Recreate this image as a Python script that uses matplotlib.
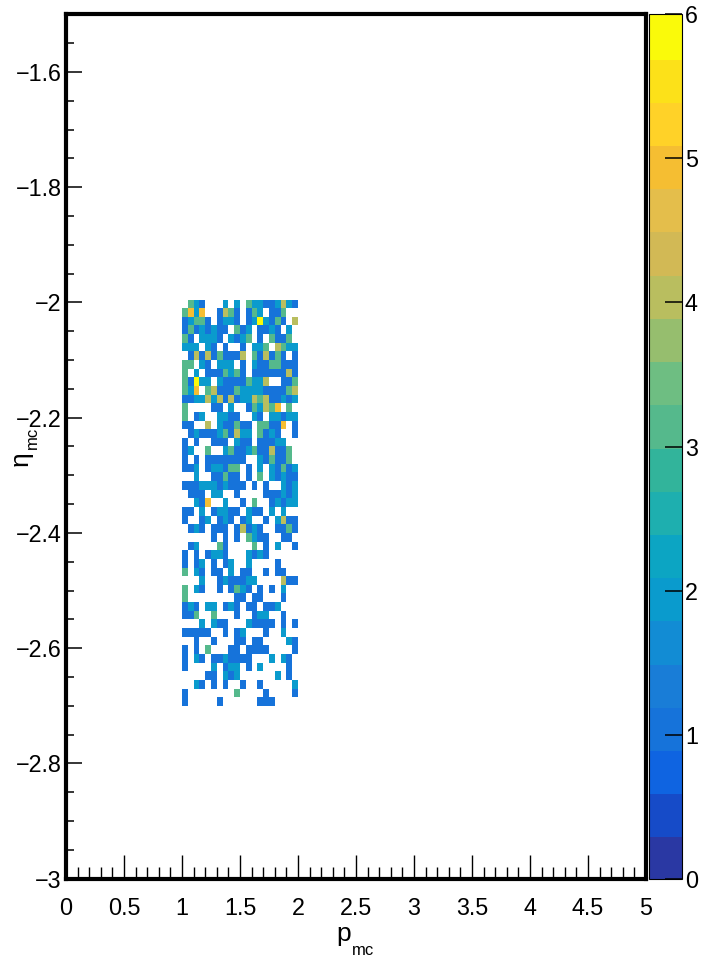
import matplotlib
matplotlib.use('Agg')
import matplotlib.pyplot as plt
import numpy as np
from matplotlib.colors import ListedColormap, Normalize
from matplotlib.ticker import MultipleLocator

plt.rcParams['font.family'] = ['Liberation Sans', 'DejaVu Sans']

# weights per bin, top row first (0 = empty bin), 20 columns of p_mc from 1 to 2
counts = [
    [0, 3, 2, 1, 0, 0, 0, 2, 0, 2, 0, 3, 2, 2, 1, 1, 2, 4, 2, 1],
    [3, 5, 2, 5, 0, 0, 1, 4, 3, 1, 0, 1, 3, 2, 0, 1, 1, 3, 0, 0],
    [1, 2, 3, 3, 1, 0, 1, 2, 2, 1, 0, 1, 2, 6, 2, 1, 3, 1, 0, 4],
    [1, 3, 1, 2, 1, 2, 1, 1, 0, 3, 1, 2, 0, 1, 1, 2, 1, 0, 2, 0],
    [3, 1, 0, 2, 2, 2, 1, 0, 2, 1, 2, 3, 0, 1, 0, 3, 1, 1, 3, 0],
    [2, 2, 2, 0, 2, 1, 0, 1, 0, 0, 1, 0, 2, 2, 3, 0, 4, 3, 2, 2],
    [0, 1, 4, 1, 4, 1, 3, 1, 1, 1, 4, 0, 3, 1, 4, 1, 3, 1, 0, 1],
    [3, 3, 0, 2, 1, 0, 2, 2, 2, 0, 1, 0, 2, 1, 1, 3, 3, 1, 1, 1],
    [3, 0, 2, 0, 1, 1, 1, 3, 2, 3, 1, 0, 1, 1, 1, 1, 1, 1, 4, 1],
    [3, 1, 6, 2, 2, 0, 2, 1, 1, 1, 1, 3, 2, 2, 4, 0, 0, 1, 1, 3],
    [3, 2, 5, 0, 3, 4, 1, 1, 1, 3, 2, 2, 2, 2, 1, 1, 1, 1, 3, 4],
    [1, 1, 2, 2, 4, 2, 4, 1, 4, 1, 2, 2, 4, 3, 4, 1, 1, 2, 1, 2],
    [3, 0, 0, 0, 0, 1, 1, 0, 2, 0, 0, 1, 3, 2, 4, 3, 5, 0, 3, 0],
    [3, 0, 1, 2, 0, 0, 2, 2, 1, 1, 0, 0, 2, 1, 0, 2, 2, 1, 2, 2],
    [1, 1, 0, 0, 4, 0, 2, 1, 1, 3, 1, 1, 0, 3, 3, 1, 1, 5, 0, 1],
    [0, 1, 2, 1, 1, 1, 2, 3, 1, 4, 2, 2, 0, 3, 1, 2, 1, 0, 0, 1],
    [1, 0, 1, 0, 0, 1, 1, 1, 0, 2, 1, 1, 0, 1, 1, 1, 2, 2, 0, 0],
    [1, 2, 0, 0, 3, 0, 0, 2, 3, 1, 1, 2, 3, 1, 1, 4, 1, 1, 3, 0],
    [1, 0, 1, 0, 1, 1, 1, 1, 1, 1, 1, 0, 0, 2, 1, 3, 1, 1, 3, 0],
    [1, 1, 2, 0, 1, 2, 2, 1, 3, 3, 0, 1, 0, 2, 0, 2, 1, 3, 1, 2],
    [0, 0, 2, 0, 0, 1, 1, 3, 1, 1, 0, 1, 0, 3, 0, 2, 1, 2, 1, 1],
    [1, 1, 1, 2, 2, 2, 1, 2, 1, 1, 1, 0, 1, 0, 1, 0, 0, 2, 1, 2],
    [0, 1, 1, 1, 0, 2, 2, 0, 0, 1, 0, 0, 0, 0, 1, 1, 1, 2, 1, 2],
    [0, 0, 2, 1, 5, 0, 0, 2, 0, 0, 1, 0, 3, 0, 0, 1, 2, 1, 2, 2],
    [1, 1, 0, 2, 0, 1, 2, 2, 1, 1, 0, 2, 1, 1, 0, 2, 0, 2, 0, 0],
    [1, 0, 0, 1, 2, 0, 1, 2, 1, 0, 1, 2, 0, 0, 1, 0, 2, 4, 1, 1],
    [0, 1, 2, 1, 0, 1, 1, 1, 0, 1, 4, 1, 2, 1, 0, 0, 1, 1, 3, 1],
    [0, 0, 0, 0, 0, 1, 0, 1, 0, 1, 0, 3, 2, 1, 1, 0, 0, 1, 1, 0],
    [0, 1, 2, 0, 0, 0, 3, 1, 0, 0, 0, 0, 3, 0, 1, 0, 2, 0, 0, 1],
    [1, 0, 1, 0, 1, 2, 2, 1, 0, 0, 0, 2, 1, 2, 1, 0, 0, 0, 0, 0],
    [1, 0, 1, 2, 0, 1, 0, 1, 2, 0, 0, 2, 0, 0, 0, 0, 1, 0, 0, 0],
    [3, 0, 2, 1, 0, 1, 1, 0, 2, 0, 1, 1, 0, 0, 1, 0, 1, 1, 0, 0],
    [0, 0, 0, 2, 0, 0, 1, 2, 1, 1, 1, 2, 2, 0, 0, 0, 0, 4, 1, 1],
    [3, 0, 2, 1, 0, 0, 1, 0, 1, 3, 2, 1, 0, 1, 0, 1, 0, 2, 0, 0],
    [3, 0, 0, 0, 0, 0, 0, 0, 0, 1, 1, 0, 1, 1, 0, 0, 0, 1, 0, 0],
    [1, 2, 1, 0, 2, 2, 0, 1, 2, 1, 0, 1, 1, 0, 1, 1, 2, 0, 0, 0],
    [1, 1, 3, 0, 0, 3, 0, 0, 0, 1, 0, 0, 1, 2, 2, 0, 0, 1, 0, 0],
    [0, 0, 0, 2, 0, 2, 1, 1, 0, 0, 0, 2, 1, 1, 1, 1, 0, 1, 0, 1],
    [1, 1, 1, 1, 1, 0, 0, 1, 0, 1, 2, 0, 0, 0, 1, 0, 0, 2, 0, 0],
    [0, 0, 1, 0, 0, 1, 0, 0, 0, 1, 1, 0, 1, 1, 0, 0, 0, 0, 2, 1],
    [1, 0, 1, 0, 3, 0, 0, 0, 1, 1, 0, 1, 1, 1, 1, 0, 0, 0, 0, 1],
    [1, 0, 2, 1, 0, 1, 1, 2, 1, 1, 1, 1, 0, 0, 0, 2, 0, 2, 1, 0],
    [1, 0, 0, 0, 0, 2, 0, 1, 2, 2, 0, 1, 0, 2, 0, 0, 0, 0, 1, 0],
    [0, 0, 0, 0, 1, 1, 0, 2, 1, 2, 0, 0, 0, 0, 0, 0, 2, 0, 1, 0],
    [0, 0, 2, 1, 0, 1, 0, 1, 0, 0, 1, 0, 0, 1, 0, 0, 0, 0, 0, 2],
    [1, 0, 0, 0, 0, 0, 0, 0, 0, 3, 0, 0, 0, 0, 1, 0, 0, 0, 0, 1],
    [1, 0, 0, 0, 0, 0, 1, 0, 0, 0, 0, 0, 0, 1, 1, 1, 0, 0, 0, 0],
]

x_ticks = [0, 0.5, 1, 1.5, 2, 2.5, 3, 3.5, 4, 4.5, 5]
x_labels = ['0', '0.5', '1', '1.5', '2', '2.5', '3', '3.5', '4', '4.5', '5']
y_ticks = [-3, -2.8, -2.6, -2.4, -2.2, -2, -1.8, -1.6]
y_labels = ['\u22123', '\u22122.8', '\u22122.6', '\u22122.4', '\u22122.2', '\u22122', '\u22121.8', '\u22121.6']
z_ticks = [0, 1, 2, 3, 4, 5, 6]

# the 20 contour colours as they look in the picture, low to high
palette = ['#2a38a3', '#164bc8', '#0f64e1', '#1673da', '#197dd7', '#128cd4', '#0a9bcd', '#0ca5c3',
           '#1eafaf', '#32b49b', '#55b98c', '#6ebe82', '#96be6e', '#b9be5f', '#d2b955', '#e4be4b',
           '#f5be32', '#ffd228', '#fce119', '#fafa0a']
cmap = ListedColormap(palette)
norm = Normalize(0, 6)

W, H = 702, 958
fig = plt.figure(figsize=(W / 100, H / 100), dpi=100)
ax = fig.add_axes([66 / W, 1 - 878.7 / H, 580 / W, 864.4 / H])

z = np.ma.masked_equal(np.array(counts, dtype=float), 0)
x_edges = np.linspace(1, 2, 21)
y_edges = -1.995 - 0.015 * np.arange(48)
mesh = ax.pcolormesh(x_edges, y_edges, z, cmap=cmap, norm=norm, linewidth=0)

ax.set_xlim(0, 5)
ax.set_ylim(-3, -1.5)
for s in ax.spines.values():
    s.set_linewidth(3)
ax.set_xticks(x_ticks, x_labels)
ax.set_yticks(y_ticks, y_labels)
ax.xaxis.set_minor_locator(MultipleLocator(0.1))
ax.yaxis.set_minor_locator(MultipleLocator(0.05))
ax.tick_params(axis='x', which='major', direction='in', length=17.5, width=1, labelsize=16.8, pad=13)
ax.tick_params(axis='x', which='minor', direction='in', length=9, width=1)
ax.tick_params(axis='y', which='major', direction='in', length=11.5, width=1.1, labelsize=16.8, pad=3)
ax.tick_params(axis='y', which='minor', direction='in', length=6, width=1.1)

# axis titles with the subscript set by hand, as ROOT draws them
def title(px, py, s, size, rot=0):
    fig.text(px / W, 1 - py / H, s, fontsize=size, rotation=rot, rotation_mode='anchor',
             ha='left', va='baseline')

title(336, 941, 'p', 19)
title(351.5, 955, 'mc', 12)
title(28, 466, '\u03b7', 19, 90)
title(37, 449, 'mc', 12, 90)

cax = fig.add_axes([649 / W, 1 - 878.7 / H, 33 / W, 864.4 / H])
cb = fig.colorbar(mesh, cax=cax, ticks=z_ticks)
cb.outline.set_linewidth(0.8)
cax.tick_params(direction='in', length=12, width=1.1, labelsize=16.8, pad=2)
cb.solids.set_edgecolor('face')

fig.savefig('out.png', dpi=100)
